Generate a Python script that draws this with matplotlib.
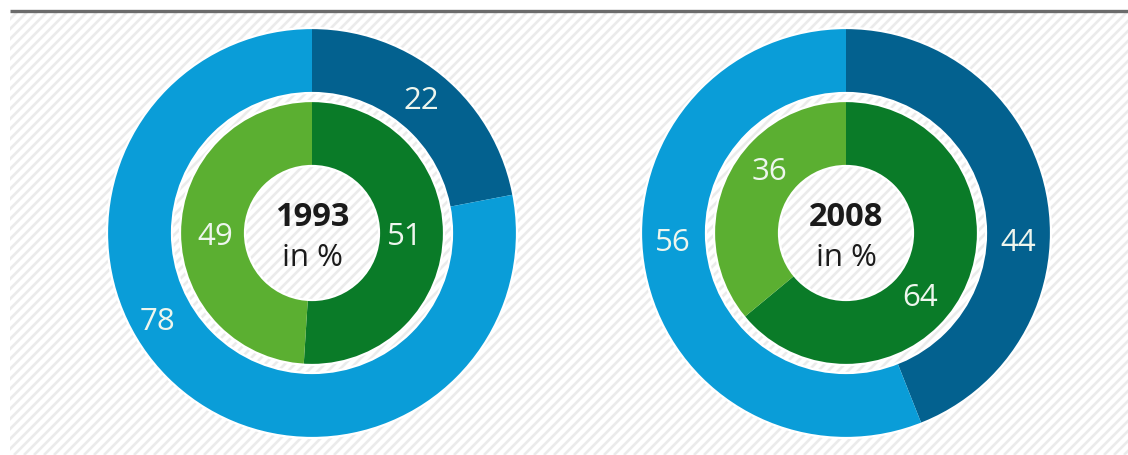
import matplotlib.pyplot as plt
import numpy as np
from matplotlib.patches import Circle, Rectangle

# data: share in percent, dark slice first (clockwise from 12 o'clock)
YEARS = ["1993", "2008"]
OUTER_VALUES = [[22, 78], [44, 56]]
INNER_VALUES = [[51, 49], [64, 36]]

# label placement (angle clockwise from top in degrees, radius in px)
OUTER_LABEL_POS = [[(39.6, 172), (240.4, 178)], [(93, 172), (267, 173)]]
INNER_LABEL_POS = [[(92, 93), (268, 97)], [(131, 98), (309, 98)]]

OUTER_COLORS = ["#03618f", "#0a9dd8"]
INNER_COLORS = ["#0a7b28", "#5baf31"]
LABEL_COLOR = "#eef6ee"
W, H = 1128, 456
CENTERS_X = [312, 846]
CENTER_Y = H - 234
R_OUT, R_OUT_IN = 205, 140
R_IN, R_IN_IN = 132, 67

plt.rcParams["font.family"] = ["Open Sans", "DejaVu Sans"]

fig = plt.figure(figsize=(W / 100, H / 100), dpi=100)
ax = fig.add_axes([0, 0, 1, 1])

# hatched panel background
panel = Rectangle((10, 0), W - 10, H - 14, facecolor="white", edgecolor="none", zorder=0)
ax.add_patch(panel)
for c in np.arange(-H, W + H, 10):
    ln, = ax.plot([c, c + H], [0, H], color="#ebebeb", lw=1.9, zorder=0.5,
                  solid_capstyle="butt")
    ln.set_clip_path(panel)
ax.plot([10, W], [H - 12, H - 12], color="#6b6b6b", lw=2.4, zorder=3,
        solid_capstyle="butt")

for i, year in enumerate(YEARS):
    cx = CENTERS_X[i]
    ax.pie(OUTER_VALUES[i], colors=OUTER_COLORS, startangle=90, counterclock=False,
           radius=R_OUT, center=(cx, CENTER_Y), frame=True,
           wedgeprops=dict(width=R_OUT - R_OUT_IN, edgecolor="none"))
    ax.pie(INNER_VALUES[i], colors=INNER_COLORS, startangle=90, counterclock=False,
           radius=R_IN, center=(cx, CENTER_Y), frame=True,
           wedgeprops=dict(width=R_IN - R_IN_IN, edgecolor="none"))
    for r in (R_OUT, R_OUT_IN, R_IN, R_IN_IN):
        ax.add_patch(Circle((cx, CENTER_Y), r, fill=False, edgecolor="white",
                            lw=1.6, zorder=2))

    for vals, poss in ((OUTER_VALUES[i], OUTER_LABEL_POS[i]),
                       (INNER_VALUES[i], INNER_LABEL_POS[i])):
        for v, (ang, rad) in zip(vals, poss):
            t = np.deg2rad(ang)
            ax.text(cx + rad * np.sin(t), CENTER_Y + rad * np.cos(t), str(v),
                    ha="center", va="center", fontsize=22.5, color=LABEL_COLOR, zorder=4)

    ax.text(cx, CENTER_Y + 17, year, ha="center", va="center", fontsize=23.5,
            fontweight="bold", color="#1a1a1a", zorder=4)
    ax.text(cx, CENTER_Y - 24, "in %", ha="center", va="center", fontsize=22.5,
            color="#1a1a1a", zorder=4)

ax.set_xlim(0, W)
ax.set_ylim(0, H)
ax.set_aspect("equal")
ax.axis("off")
fig.savefig("out.png", dpi=100, facecolor="white")
